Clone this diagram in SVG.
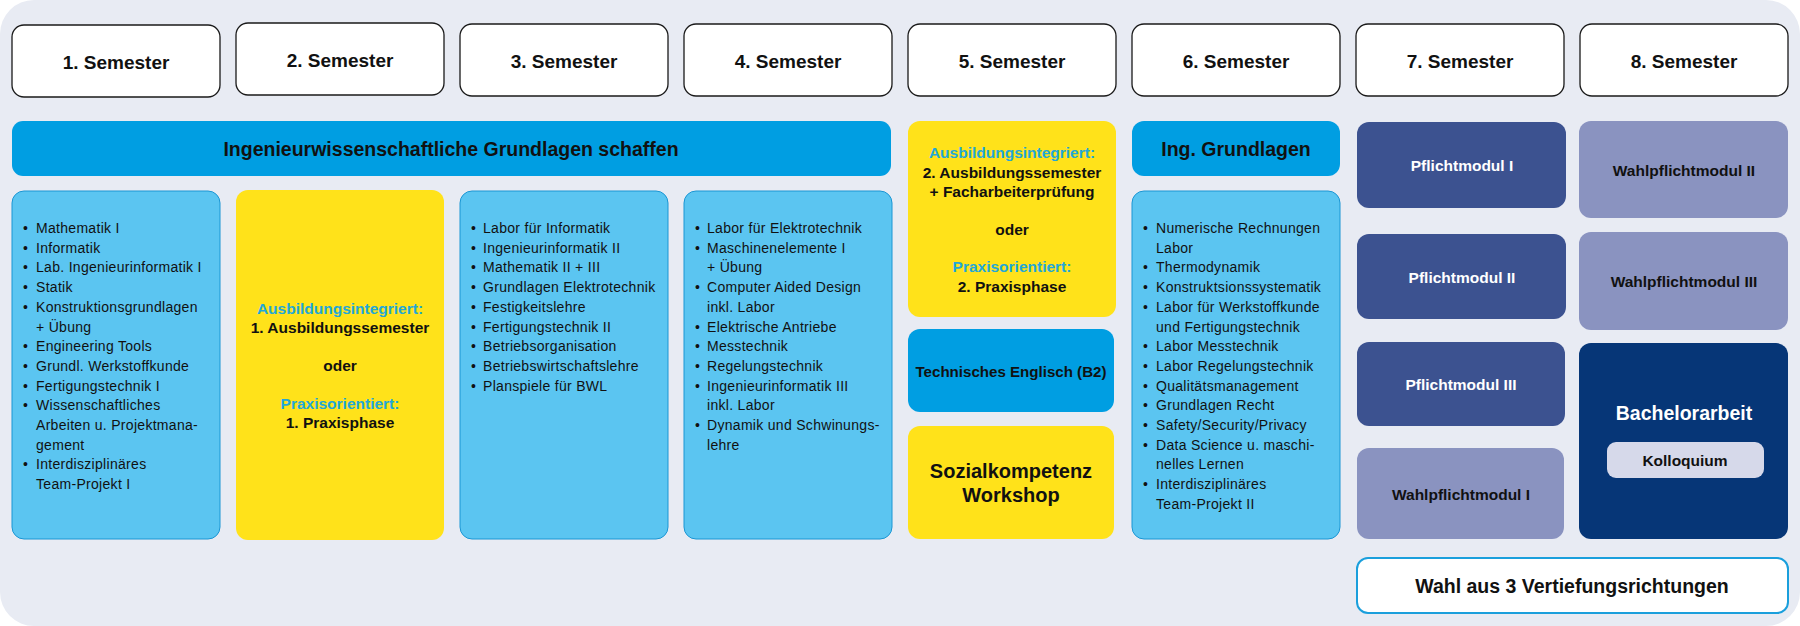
<svg xmlns="http://www.w3.org/2000/svg" width="1800" height="626" viewBox="0 0 1800 626">
<style>
text{font-family:"Liberation Sans",Arial,Helvetica,sans-serif;fill:#111}
.hd{font-weight:bold;font-size:19px;text-anchor:middle}
.big{font-weight:bold;font-size:19.5px;text-anchor:middle}
.mid{font-weight:bold;font-size:15.5px;text-anchor:middle}
.cy{fill:#22a7d8}
.wh{fill:#fff}
.li{font-size:14px;letter-spacing:0.3px}
.sem{fill:#fff;stroke:#1a1a1a;stroke-width:1.3}
.blue{fill:#009ee2}
.lblue{fill:#5bc5f1;stroke:#1b96d4;stroke-width:1}
.yel{fill:#ffe21a}
.pm{fill:#3c5290}
.wp{fill:#8a93c0}
.ba{fill:#063677}
</style>
<rect x="0" y="0" width="1800" height="626" fill="#ffffff"/>
<rect x="0" y="0" width="1800" height="626" rx="34" fill="#e8ebf3"/>
<g id="connectors"/>
<g id="sem1"><rect class="sem" x="12" y="25" width="208" height="72" rx="12"/><text class="hd" x="116" y="68.5">1. Semester</text></g>
<g id="sem2"><rect class="sem" x="236" y="23" width="208" height="72" rx="12"/><text class="hd" x="340" y="66.5">2. Semester</text></g>
<g id="sem3"><rect class="sem" x="460" y="24" width="208" height="72" rx="12"/><text class="hd" x="564" y="67.5">3. Semester</text></g>
<g id="sem4"><rect class="sem" x="684" y="24" width="208" height="72" rx="12"/><text class="hd" x="788" y="67.5">4. Semester</text></g>
<g id="sem5"><rect class="sem" x="908" y="24" width="208" height="72" rx="12"/><text class="hd" x="1012" y="67.5">5. Semester</text></g>
<g id="sem6"><rect class="sem" x="1132" y="24" width="208" height="72" rx="12"/><text class="hd" x="1236" y="67.5">6. Semester</text></g>
<g id="sem7"><rect class="sem" x="1356" y="24" width="208" height="72" rx="12"/><text class="hd" x="1460" y="67.5">7. Semester</text></g>
<g id="sem8"><rect class="sem" x="1580" y="24" width="208" height="72" rx="12"/><text class="hd" x="1684" y="67.5">8. Semester</text></g>
<g id="grundlagen"><rect class="blue" x="12" y="121" width="879" height="55" rx="11"/><text class="big" x="451" y="156">Ingenieurwissenschaftliche Grundlagen schaffen</text></g>
<g id="col1"><rect class="lblue" x="12" y="191" width="208" height="348" rx="12"/>
<text class="li"><tspan x="23" y="233">•</tspan><tspan x="36" y="233">Mathematik I</tspan><tspan x="23" y="252.7">•</tspan><tspan x="36" y="252.7">Informatik</tspan><tspan x="23" y="272.4">•</tspan><tspan x="36" y="272.4">Lab. Ingenieurinformatik I</tspan><tspan x="23" y="292.1">•</tspan><tspan x="36" y="292.1">Statik</tspan><tspan x="23" y="311.8">•</tspan><tspan x="36" y="311.8">Konstruktionsgrundlagen</tspan><tspan x="36" y="331.5">+ Übung</tspan><tspan x="23" y="351.2">•</tspan><tspan x="36" y="351.2">Engineering Tools</tspan><tspan x="23" y="370.9">•</tspan><tspan x="36" y="370.9">Grundl. Werkstoffkunde</tspan><tspan x="23" y="390.6">•</tspan><tspan x="36" y="390.6">Fertigungstechnik I</tspan><tspan x="23" y="410.3">•</tspan><tspan x="36" y="410.3">Wissenschaftliches</tspan><tspan x="36" y="430">Arbeiten u. Projektmana-</tspan><tspan x="36" y="449.7">gement</tspan><tspan x="23" y="469.4">•</tspan><tspan x="36" y="469.4">Interdisziplinäres</tspan><tspan x="36" y="489.1">Team-Projekt I</tspan></text></g>
<g id="col2"><rect class="yel" x="236" y="190" width="208" height="350" rx="12"/>
<text class="mid cy" x="340" y="313.5">Ausbildungsintegriert:</text><text class="mid" x="340" y="333">1. Ausbildungssemester</text><text class="mid" x="340" y="371">oder</text><text class="mid cy" x="340" y="408.5">Praxisorientiert:</text><text class="mid" x="340" y="428">1. Praxisphase</text></g>
<g id="col3"><rect class="lblue" x="460" y="191" width="208" height="348" rx="12"/>
<text class="li"><tspan x="471" y="233">•</tspan><tspan x="483" y="233">Labor für Informatik</tspan><tspan x="471" y="252.7">•</tspan><tspan x="483" y="252.7">Ingenieurinformatik II</tspan><tspan x="471" y="272.4">•</tspan><tspan x="483" y="272.4">Mathematik II + III</tspan><tspan x="471" y="292.1">•</tspan><tspan x="483" y="292.1">Grundlagen Elektrotechnik</tspan><tspan x="471" y="311.8">•</tspan><tspan x="483" y="311.8">Festigkeitslehre</tspan><tspan x="471" y="331.5">•</tspan><tspan x="483" y="331.5">Fertigungstechnik II</tspan><tspan x="471" y="351.2">•</tspan><tspan x="483" y="351.2">Betriebsorganisation</tspan><tspan x="471" y="370.9">•</tspan><tspan x="483" y="370.9">Betriebswirtschaftslehre</tspan><tspan x="471" y="390.6">•</tspan><tspan x="483" y="390.6">Planspiele für BWL</tspan></text></g>
<g id="col4"><rect class="lblue" x="684" y="191" width="208" height="348" rx="12"/>
<text class="li"><tspan x="695" y="233">•</tspan><tspan x="707" y="233">Labor für Elektrotechnik</tspan><tspan x="695" y="252.7">•</tspan><tspan x="707" y="252.7">Maschinenelemente I</tspan><tspan x="707" y="272.4">+ Übung</tspan><tspan x="695" y="292.1">•</tspan><tspan x="707" y="292.1">Computer Aided Design</tspan><tspan x="707" y="311.8">inkl. Labor</tspan><tspan x="695" y="331.5">•</tspan><tspan x="707" y="331.5">Elektrische Antriebe</tspan><tspan x="695" y="351.2">•</tspan><tspan x="707" y="351.2">Messtechnik</tspan><tspan x="695" y="370.9">•</tspan><tspan x="707" y="370.9">Regelungstechnik</tspan><tspan x="695" y="390.6">•</tspan><tspan x="707" y="390.6">Ingenieurinformatik III</tspan><tspan x="707" y="410.3">inkl. Labor</tspan><tspan x="695" y="430">•</tspan><tspan x="707" y="430">Dynamik und Schwinungs-</tspan><tspan x="707" y="449.7">lehre</tspan></text></g>
<g id="col5-praxis"><rect class="yel" x="908" y="121" width="208" height="196" rx="12"/>
<text class="mid cy" x="1012" y="158">Ausbildungsintegriert:</text><text class="mid" x="1012" y="177.5">2. Ausbildungssemester</text><text class="mid" x="1012" y="197">+ Facharbeiterprüfung</text><text class="mid" x="1012" y="234.5">oder</text><text class="mid cy" x="1012" y="272">Praxisorientiert:</text><text class="mid" x="1012" y="291.5">2. Praxisphase</text></g>
<g id="col5-englisch"><rect class="blue" x="908" y="329" width="206" height="83" rx="12"/><text class="mid" x="1011" y="377" style="font-size:15.1px">Technisches Englisch (B2)</text></g>
<g id="col5-sozial"><rect class="yel" x="908" y="426" width="206" height="113" rx="12"/><text class="big" x="1011" y="478" style="font-size:20px">Sozialkompetenz</text><text class="big" x="1011" y="502" style="font-size:20px">Workshop</text></g>
<g id="col6-ing"><rect class="blue" x="1132" y="121" width="208" height="55" rx="12"/><text class="big" x="1236" y="156">Ing. Grundlagen</text></g>
<g id="col6"><rect class="lblue" x="1132" y="191" width="208" height="348" rx="12"/>
<text class="li"><tspan x="1143" y="233">•</tspan><tspan x="1156" y="233">Numerische Rechnungen</tspan><tspan x="1156" y="252.7">Labor</tspan><tspan x="1143" y="272.4">•</tspan><tspan x="1156" y="272.4">Thermodynamik</tspan><tspan x="1143" y="292.1">•</tspan><tspan x="1156" y="292.1">Konstruktsionssystematik</tspan><tspan x="1143" y="311.8">•</tspan><tspan x="1156" y="311.8">Labor für Werkstoffkunde</tspan><tspan x="1156" y="331.5">und Fertigungstechnik</tspan><tspan x="1143" y="351.2">•</tspan><tspan x="1156" y="351.2">Labor Messtechnik</tspan><tspan x="1143" y="370.9">•</tspan><tspan x="1156" y="370.9">Labor Regelungstechnik</tspan><tspan x="1143" y="390.6">•</tspan><tspan x="1156" y="390.6">Qualitätsmanagement</tspan><tspan x="1143" y="410.3">•</tspan><tspan x="1156" y="410.3">Grundlagen Recht</tspan><tspan x="1143" y="430">•</tspan><tspan x="1156" y="430">Safety/Security/Privacy</tspan><tspan x="1143" y="449.7">•</tspan><tspan x="1156" y="449.7">Data Science u. maschi-</tspan><tspan x="1156" y="469.4">nelles Lernen</tspan><tspan x="1143" y="489.1">•</tspan><tspan x="1156" y="489.1">Interdisziplinäres</tspan><tspan x="1156" y="508.8">Team-Projekt II</tspan></text></g>
<g id="pflicht1"><rect class="pm" x="1357" y="122" width="209" height="86" rx="12"/><text class="mid wh" x="1462" y="171">Pflichtmodul I</text></g>
<g id="pflicht2"><rect class="pm" x="1357" y="234" width="209" height="85" rx="12"/><text class="mid wh" x="1462" y="283">Pflichtmodul II</text></g>
<g id="pflicht3"><rect class="pm" x="1357" y="342" width="208" height="84" rx="12"/><text class="mid wh" x="1461" y="390">Pflichtmodul III</text></g>
<g id="wahlpflicht1"><rect class="wp" x="1357" y="448" width="207" height="91" rx="12"/><text class="mid" x="1461" y="500">Wahlpflichtmodul I</text></g>
<g id="wahlpflicht2"><rect class="wp" x="1579" y="121" width="209" height="97" rx="12"/><text class="mid" x="1684" y="176">Wahlpflichtmodul II</text></g>
<g id="wahlpflicht3"><rect class="wp" x="1579" y="232" width="209" height="98" rx="12"/><text class="mid" x="1684" y="287">Wahlpflichtmodul III</text></g>
<g id="bachelor"><rect class="ba" x="1579" y="343" width="209" height="196" rx="12"/><text class="big wh" x="1684" y="420">Bachelorarbeit</text>
<g id="kolloquium"><rect x="1607" y="442" width="157" height="36" rx="9" fill="#d6d9ea"/><text class="mid" x="1685" y="466">Kolloquium</text></g></g>
<g id="vertiefung"><rect x="1357" y="558" width="431" height="55" rx="11" fill="#fff" stroke="#1a9fdc" stroke-width="2"/><text class="big" x="1572" y="593">Wahl aus 3 Vertiefungsrichtungen</text></g>
</svg>
